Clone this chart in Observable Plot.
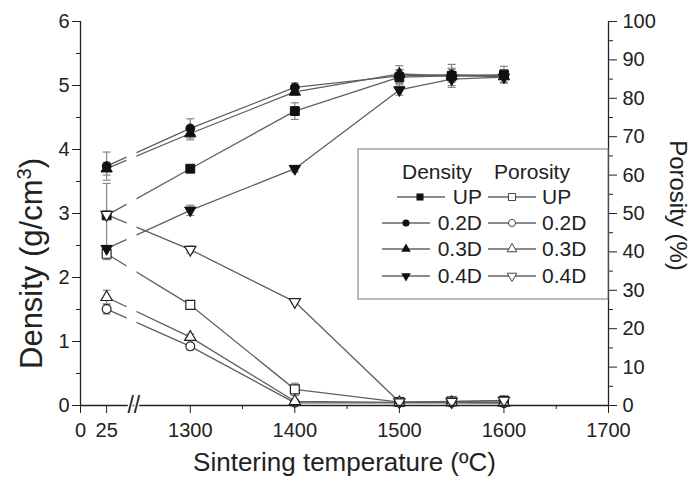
<!DOCTYPE html>
<html><head><meta charset="utf-8">
<script src="https://cdn.jsdelivr.net/npm/d3@7"></script>
<script src="https://cdn.jsdelivr.net/npm/@observablehq/plot@0.6"></script>
<style>
body{margin:0;background:#fff}
#chart svg{display:block}
</style>
</head><body><div id="chart"></div>
<script>
// ---- data ----
const temperatures = [25, 1300, 1400, 1500, 1550, 1600];
const seriesNames = ["UP", "0.2D", "0.3D", "0.4D"];

const densityUP   = [2.97, 3.70, 4.60, 5.13, 5.15, 5.17];
const density02D  = [3.74, 4.33, 4.97, 5.15, 5.17, 5.15];
const density03D  = [3.70, 4.25, 4.90, 5.18, 5.15, 5.14];
const density04D  = [2.45, 3.05, 3.70, 4.93, 5.10, 5.13];

const densityErrUP  = [0.50, 0.05, 0.13, 0.10, 0.18, 0.13];
const densityErr02D = [0.22, 0.15, 0.07, 0.10, 0.10, 0.10];
const densityErr03D = [0.10, 0.10, 0.05, 0.13, 0.10, 0.10];
const densityErr04D = [0.05, 0.08, 0.05, 0.08, 0.10, 0.08];

const porosityUP  = [39.5, 26.2, 4.2, 0.9, 1.1, 1.2];
const porosity02D = [25.1, 15.4, 0.7, 0.7, 0.7, 0.6];
const porosity03D = [28.2, 17.8, 1.1, 0.8, 0.8, 0.7];
const porosity04D = [49.7, 40.6, 27.0, 0.9, 1.0, 1.3];

const porosityErrUP  = [1.5, 0.8, 1.6, 0.3, 0.3, 1.3];
const porosityErr02D = [1.3, 0.6, 0.3, 0.3, 0.3, 0.3];
const porosityErr03D = [1.8, 0.8, 0.3, 0.3, 0.3, 0.3];
const porosityErr04D = [0.5, 0.9, 0.5, 0.3, 0.3, 0.3];

const xTickValues = [0, 25, 1300, 1400, 1500, 1600, 1700];
const xMinorTicks = [1350, 1450, 1550, 1650];
const densityTicks = [0, 1, 2, 3, 4, 5, 6];
const densityMinorTicks = [0.5, 1.5, 2.5, 3.5, 4.5, 5.5];
const porosityTicks = [0, 10, 20, 30, 40, 50, 60, 70, 80, 90, 100];
const porosityMinorTicks = [5, 15, 25, 35, 45, 55, 65, 75, 85, 95];

// ---- broken x axis: temperatures above the break are shifted left ----
const breakOffset = 1195;
const toAxis = t => (t >= 1000 ? t - breakOffset : t);
const porToDen = p => p * 6 / 100;
const xMax = toAxis(1700);
const gapFrom = 44.5, gapTo = 54, breakAt = 51;

const downTriangle = {
  draw(ctx, size) {
    const s = Math.sqrt(4 * size / Math.sqrt(3));
    const h = s * Math.sqrt(3) / 2;
    ctx.moveTo(-s / 2, -h / 3);
    ctx.lineTo(s / 2, -h / 3);
    ctx.lineTo(0, 2 * h / 3);
    ctx.closePath();
  }
};
const capSymbol = {
  draw(ctx, size) {
    const w = Math.sqrt(size) / 2;
    ctx.moveTo(-w, 0); ctx.lineTo(w, 0);
  }
};
const seriesSymbols = ["square", "circle", "triangle", downTriangle];
const seriesR = [5.0, 4.4, 4.2, 4.2];

const densitySets = [[densityUP, densityErrUP], [density02D, densityErr02D], [density03D, densityErr03D], [density04D, densityErr04D]];
const porositySets = [[porosityUP, porosityErrUP], [porosity02D, porosityErr02D], [porosity03D, porosityErr03D], [porosity04D, porosityErr04D]];

const rows = [];
function addSeries(kind, name, values, errors, toY) {
  temperatures.forEach((t, i) => rows.push({
    kind, name, key: kind + name, t, xv: toAxis(t),
    y: toY(values[i]), lo: toY(values[i] - errors[i]), hi: toY(values[i] + errors[i])
  }));
}
seriesNames.forEach((n, i) => addSeries("Density", n, densitySets[i][0], densitySets[i][1], v => v));
seriesNames.forEach((n, i) => addSeries("Porosity", n, porositySets[i][0], porositySets[i][1], porToDen));

const FONT = "'Liberation Sans', Arial, Helvetica, sans-serif";
const xLabel = new Map(xTickValues.map(t => [toAxis(t), String(t)]));

const dotMarks = [];
seriesNames.forEach((n, i) => {
  dotMarks.push(Plot.dot(rows.filter(d => d.key === "Density" + n), {
    x: "xv", y: "y", symbol: seriesSymbols[i], r: seriesR[i], fill: "#111", stroke: "#111", strokeWidth: 1
  }));
  dotMarks.push(Plot.dot(rows.filter(d => d.key === "Porosity" + n), {
    x: "xv", y: "y", symbol: seriesSymbols[i], r: seriesR[i], fill: "white", stroke: "#222", strokeWidth: 1.2
  }));
});

const capR = Math.sqrt(64 / Math.PI);

const plot = Plot.plot({
  width: 691, height: 484,
  marginLeft: 80, marginRight: 83, marginTop: 21, marginBottom: 79,
  style: {fontFamily: FONT, color: "#222", background: "white"},
  x: {domain: [0, xMax], label: null},
  y: {domain: [0, 6], label: null},
  marks: [
    Plot.line(rows, {x: "xv", y: "y", z: "key", stroke: "#5f5f5f", strokeWidth: 1.3}),
    Plot.rect([{x1: gapFrom, x2: gapTo}], {x1: "x1", x2: "x2", y1: 0.02, y2: 6, fill: "white"}),
    Plot.ruleX(rows, {x: "xv", y1: "lo", y2: "hi", stroke: "#888", strokeWidth: 1.2}),
    Plot.dot(rows, {x: "xv", y: "lo", symbol: capSymbol, r: capR, stroke: "#888", strokeWidth: 1.2}),
    Plot.dot(rows, {x: "xv", y: "hi", symbol: capSymbol, r: capR, stroke: "#888", strokeWidth: 1.2}),
    ...dotMarks,
    Plot.ruleX([0], {stroke: "#222", strokeWidth: 1.3}),
    Plot.ruleX([xMax], {stroke: "#222", strokeWidth: 1.3}),
    Plot.ruleY([0], {stroke: "#222", strokeWidth: 1.3}),
    Plot.axisX(xTickValues.map(toAxis), {tickSize: 8, tickPadding: 9, fontSize: 20, tickFormat: d => xLabel.get(d), label: null}),
    Plot.axisX(xMinorTicks.map(toAxis), {tickSize: 4, tickFormat: () => "", label: null}),
    Plot.axisY(densityTicks, {anchor: "left", tickSize: 8, tickPadding: 3, fontSize: 20, tickFormat: d => String(d), label: null}),
    Plot.axisY(densityMinorTicks, {anchor: "left", tickSize: 4, tickFormat: () => "", label: null}),
    Plot.axisY(porosityTicks.map(porToDen), {anchor: "right", tickSize: 8, tickPadding: 6, fontSize: 20, tickFormat: d => String(Math.round(d * 100 / 6)), label: null}),
    Plot.axisY(porosityMinorTicks.map(porToDen), {anchor: "right", tickSize: 4, tickFormat: () => "", label: null}),
    Plot.text(["//"], {x: breakAt, y: 0, fontSize: 23, fill: "#222", stroke: "white", strokeWidth: 3, paintOrder: "stroke"}),
    Plot.text(["Sintering temperature (ºC)"], {frameAnchor: "bottom", textAnchor: "middle", lineAnchor: "middle", dy: 57, fontSize: 26, fill: "#222"}),
    Plot.text(["Density (g/cm3)"], {frameAnchor: "left", textAnchor: "middle", lineAnchor: "middle", dx: -48, dy: 50, rotate: -90, fontSize: 31, fill: "#222", className: "ytitle"}),
    Plot.text(["Porosity (%)"], {frameAnchor: "right", textAnchor: "middle", lineAnchor: "middle", dx: 69, dy: -8, rotate: 90, fontSize: 24, fill: "#222"})
  ]
});

// superscript 3 in the density title
d3.select(plot).select("g.ytitle text")
  .html('Density (g/cm<tspan baseline-shift="super" font-size="0.65em">3</tspan>)');

// ---- legend box inside the plot area ----
const svg = d3.select(plot);
const lg = svg.append("g").attr("font-family", FONT).attr("font-size", 21).attr("fill", "#222");
lg.append("rect").attr("x", 358).attr("y", 149).attr("width", 250).attr("height", 150)
  .attr("fill", "white").attr("stroke", "#777").attr("stroke-width", 1);
lg.append("text").attr("x", 437).attr("y", 172).attr("dy", "0.35em").attr("text-anchor", "middle").text("Density");
lg.append("text").attr("x", 532).attr("y", 172).attr("dy", "0.35em").attr("text-anchor", "middle").text("Porosity");
const rowY = [197, 223, 249, 276];
const legSize = [50, 40, 40, 40];
const legType = s => s === "square" ? d3.symbolSquare : s === "circle" ? d3.symbolCircle : s === "triangle" ? d3.symbolTriangle : s;
seriesNames.forEach((n, i) => {
  const y = rowY[i];
  const dx0 = i === 0 ? 397 : 382, dx1 = i === 0 ? 445 : 430, dm = i === 0 ? 420 : 406;
  lg.append("line").attr("x1", dx0).attr("x2", dx1).attr("y1", y).attr("y2", y).attr("stroke", "#666").attr("stroke-width", 1.3);
  lg.append("path").attr("transform", `translate(${dm},${y})`)
    .attr("d", d3.symbol().type(legType(seriesSymbols[i])).size(legSize[i])())
    .attr("fill", "#111");
  lg.append("text").attr("x", 482).attr("y", y).attr("dy", "0.35em").attr("text-anchor", "end").text(n);
  lg.append("line").attr("x1", 488).attr("x2", 536).attr("y1", y).attr("y2", y).attr("stroke", "#666").attr("stroke-width", 1.3);
  lg.append("path").attr("transform", `translate(512,${y})`)
    .attr("d", d3.symbol().type(legType(seriesSymbols[i])).size(legSize[i])())
    .attr("fill", "white").attr("stroke", "#444").attr("stroke-width", 1);
  lg.append("text").attr("x", 542).attr("y", y).attr("dy", "0.35em").attr("text-anchor", "start").text(n);
});

document.getElementById("chart").appendChild(plot);
</script>
</body></html>
